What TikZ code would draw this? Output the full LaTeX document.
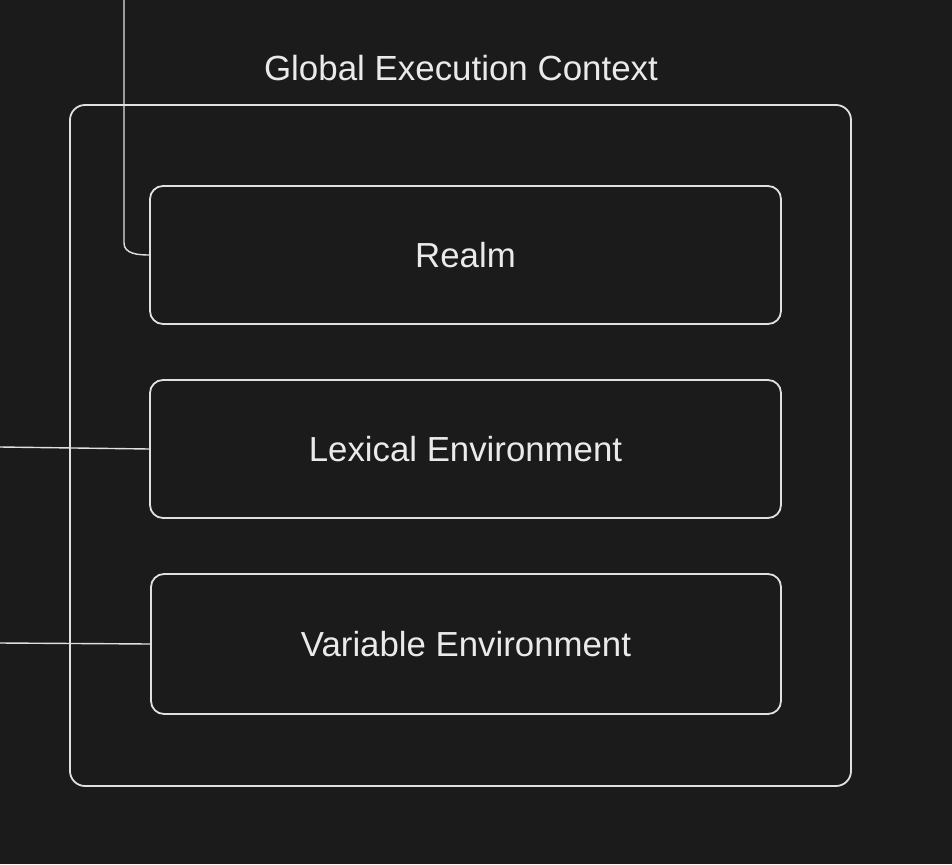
\documentclass[tikz,border=0pt]{standalone}
\usepackage{fontspec}
\setmainfont{Liberation Sans}
\definecolor{bg}{HTML}{1B1B1B}
\definecolor{ink}{HTML}{E0E0E0}
\definecolor{txt}{HTML}{EAEAEA}
\begin{document}
\begin{tikzpicture}[x=1pt,y=-1pt,
  box/.style={draw=ink,line width=1.8pt,rounded corners=13pt,inner sep=0pt,
    text=txt,font=\fontsize{34.8}{40}\selectfont},
  conn/.style={draw=ink,line width=1.4pt},
  lbl/.style={text=txt,font=\fontsize{34.9}{40}\selectfont,inner sep=0pt}]
\fill[bg] (0,0) rectangle (952,864);
\useasboundingbox (0,0) rectangle (952,864);
\node[box,minimum width=781pt,minimum height=681pt,rounded corners=15pt] (gec) at (460.5,445.5) {};
\node[lbl] (title) at (461,68) {Global Execution Context};
\node[box,minimum width=631pt,minimum height=138pt] (realm) at (465.5,255) {Realm};
\node[box,minimum width=631pt,minimum height=138pt] (lex) at (465.5,449) {Lexical Environment};
\node[box,minimum width=630pt,minimum height=140pt] (var) at (466,644) {Variable Environment};
\coordinate (top) at (124,0);
\coordinate (bend) at (124,243);
\coordinate (lexL) at (0,447);
\coordinate (varL) at (0,643);
\draw[conn] (top) -- (bend) to[out=-90,in=180] (realm.west);
\draw[conn] (lexL) -- (lex.west);
\draw[conn] (varL) -- (var.west);
\end{tikzpicture}
\end{document}
